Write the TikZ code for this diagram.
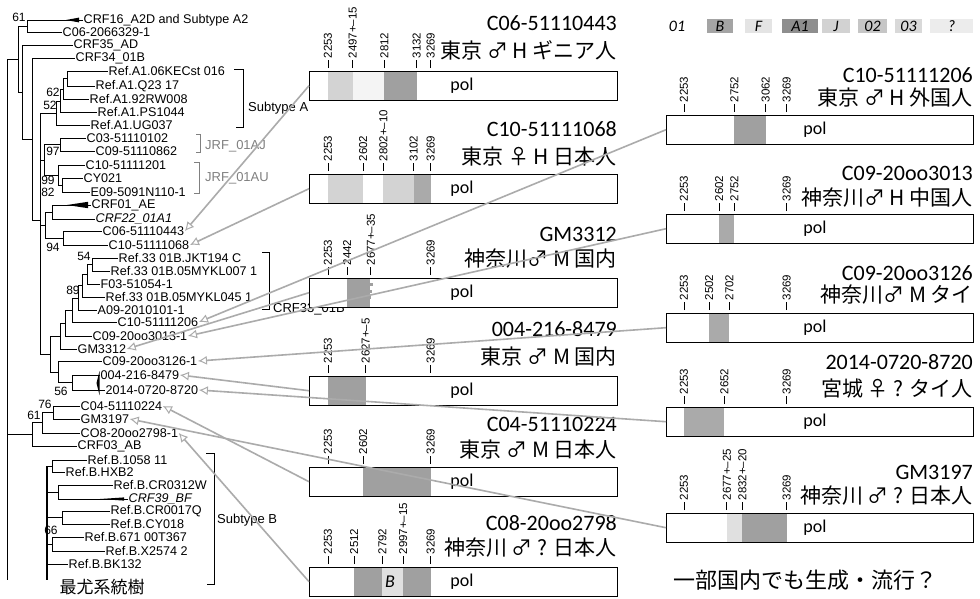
\documentclass[tikz,border=0pt]{standalone}
\usepackage{fontspec}
\setmainfont{Liberation Sans}
\newfontfamily\calf{Carlito}
\newfontfamily\jpf{Noto Sans CJK JP}
\usetikzlibrary{arrows.meta}
\definecolor{dk}{HTML}{A0A0A0}
\definecolor{md}{HTML}{AAAAAA}
\definecolor{lt}{HTML}{D3D3D3}
\definecolor{vl}{HTML}{F4F4F4}
\definecolor{lb}{HTML}{E0E0E0}
\definecolor{gB}{HTML}{A4A4A4}
\definecolor{gF}{HTML}{E4E4E4}
\definecolor{gA}{HTML}{8E8E8E}
\definecolor{gJ}{HTML}{D2D2D2}
\definecolor{gTwo}{HTML}{C6C6C6}
\definecolor{gThree}{HTML}{D9D9D9}
\definecolor{gQ}{HTML}{ECECEC}
\definecolor{arrc}{HTML}{ABABAB}
\newcount\tkcnt
\newcommand{\tk}[4]{%
  \global\advance\tkcnt by 1
  \draw[tickln] ({#1+(#3-2253)*0.101},#2-3) -- ({#1+(#3-2253)*0.101},#2-11);
  \node[ticklab,rotate=90,anchor=west] (tk\the\tkcnt) at ({#1+(#3-2253)*0.101},#2-12.5) {#4};
}
\newcommand{\sg}[5]{\fill[#5] ({#1+(#3-2253)*0.101},#2+0.5) rectangle ({#1+(#4-2253)*0.101},#2+28.5);}
\begin{document}
\begin{tikzpicture}[x=1pt,y=-1pt,
  leaf/.style={anchor=west,inner sep=0.5pt,font=\fontsize{12.6}{13}\selectfont},
  bs/.style={inner sep=0pt,font=\fontsize{12}{12}\selectfont},
  tl/.style={line width=0.8pt},
  br/.style={line width=0.8pt},
  brl/.style={anchor=west,inner sep=0pt,font=\fontsize{13}{14}\selectfont},
  mbox/.style={anchor=north west,minimum width=308pt,minimum height=29pt,inner sep=0pt,fill=white},
  rbox/.style={anchor=north west,minimum width=307pt,minimum height=29pt,inner sep=0pt,fill=white},
  boxline/.style={line width=0.9pt},
  tickln/.style={line width=0.7pt},
  ticklab/.style={inner sep=0pt,font=\fontsize{11.5}{12}\selectfont},
  pollab/.style={inner sep=0pt,font=\calf\fontsize{18}{20}\selectfont},
  idl/.style={anchor=east,inner sep=0pt,font=\calf\fontsize{22}{24}\selectfont},
  jpl/.style={anchor=east,inner sep=0pt,font=\jpf\fontsize{21}{24}\selectfont},
  lgbox/.style={minimum height=14pt,inner sep=0pt,font=\calf\itshape\fontsize{16}{18}\selectfont},
  arr/.style={draw=arrc,line width=1.6pt,-{Latex[open,length=9pt,width=9pt,line width=1pt]}}
]
\useasboundingbox[fill=white] (0,0) rectangle (980,598);

% ---------------- leaves ----------------
\node[leaf] (L1) at (83,20) {CRF16\_A2D and Subtype A2};
\node[leaf] (L2) at (62,32) {C06-2066329-1};
\node[leaf] (L3) at (73,45) {CRF35\_AD};
\node[leaf] (L4) at (75,58) {CRF34\_01B};
\node[leaf] (L5) at (108,71) {Ref.A1.06KECst 016};
\node[leaf] (L6) at (95,86) {Ref.A1.Q23 17};
\node[leaf] (L7) at (89,99) {Ref.A1.92RW008};
\node[leaf] (L8) at (97,112) {Ref.A1.PS1044};
\node[leaf] (L9) at (90,125) {Ref.A1.UG037};
\node[leaf] (L10) at (86,138) {C03-51110102};
\node[leaf] (L11) at (95,151) {C09-51110862};
\node[leaf] (L12) at (85,165) {C10-51111201};
\node[leaf] (L13) at (83,178) {CY021};
\node[leaf] (L14) at (90,192) {E09-5091N110-1};
\node[leaf] (L15) at (91,205) {CRF01\_AE};
\node[leaf,font=\fontsize{12.6}{13}\selectfont\itshape] (L16) at (95,219) {CRF22\_01A1};
\node[leaf] (L17) at (102,231) {C06-51110443};
\node[leaf] (L18) at (108,245) {C10-51111068};
\node[leaf] (L19) at (118,258) {Ref.33 01B.JKT194 C};
\node[leaf] (L20) at (110,271) {Ref.33 01B.05MYKL007 1};
\node[leaf] (L21) at (100,284) {F03-51054-1};
\node[leaf] (L22) at (105,297) {Ref.33 01B.05MYKL045 1};
\node[leaf] (L23) at (97,310) {A09-2010101-1};
\node[leaf] (L24) at (117,322) {C10-51111206};
\node[leaf] (L25) at (92,336) {C09-20oo3013-1};
\node[leaf] (L26) at (77,349) {GM3312};
\node[leaf] (L27) at (102,361) {C09-20oo3126-1};
\node[leaf] (L28) at (100,375) {004-216-8479};
\node[leaf] (L29) at (105,390) {2014-0720-8720};
\node[leaf] (L30) at (80,406) {C04-51110224};
\node[leaf] (L31) at (80,419) {GM3197};
\node[leaf] (L32) at (80,433) {CO8-20oo2798-1};
\node[leaf] (L33) at (77,446) {CRF03\_AB};
\node[leaf] (L34) at (87,460) {Ref.B.1058 11};
\node[leaf] (L35) at (65,472) {Ref.B.HXB2};
\node[leaf] (L36) at (113,485) {Ref.B.CR0312W};
\node[leaf,font=\fontsize{12.6}{13}\selectfont\itshape] (L37) at (128,499) {CRF39\_BF};
\node[leaf] (L38) at (110,511) {Ref.B.CR0017Q};
\node[leaf] (L39) at (110,524) {Ref.B.CY018};
\node[leaf] (L40) at (84,537) {Ref.B.671 00T367};
\node[leaf] (L41) at (105,551) {Ref.B.X2574 2};
\node[leaf] (L42) at (68,564) {Ref.B.BK132};

% ---------------- tree branches ----------------
\draw[tl] (7,59) -- (7,580);
\draw[tl] (7,59) -- (18,59);
\draw[tl] (18,26) -- (18,92);
\draw[tl] (18,26) -- (27,26);
\draw[tl] (27,20) -- (27,32);
\draw[tl] (27,20) -- (L1.west);
\fill (66,20) -- (79,17.6) -- (79,22.4) -- cycle;
\draw[tl] (27,32) -- (L2.west);
\draw[tl] (18,92) -- (22,92);
\draw[tl] (22,45) -- (22,139);
\draw[tl] (22,45) -- (L3.west);
\draw[tl] (22,139) -- (32,139);
\draw[tl] (32,58) -- (32,220);
\draw[tl] (32,58) -- (L4.west);
\draw[tl] (32,220) -- (40,220);
\draw[tl] (40,113) -- (40,354);
% A1 clade
\draw[tl] (40,113) -- (56,113);
\draw[tl] (56,101) -- (56,125);
\draw[tl] (56,125) -- (L9.west);
\draw[tl] (56,101) -- (60,101);
\draw[tl] (60,89) -- (60,112);
\draw[tl] (60,112) -- (L8.west);
\draw[tl] (60,89) -- (63,89);
\draw[tl] (63,78.5) -- (63,99);
\draw[tl] (63,99) -- (L7.west);
\draw[tl] (63,78.5) -- (67,78.5);
\draw[tl] (67,71) -- (67,86);
\draw[tl] (67,71) -- (L5.west);
\draw[tl] (67,86) -- (L6.west);
% JRF clades
\draw[tl] (40,160) -- (44,160);
\draw[tl] (44,144.5) -- (44,175);
\draw[tl] (44,144.5) -- (60,144.5);
\draw[tl] (60,138) -- (60,151);
\draw[tl] (60,138) -- (L10.west);
\draw[tl] (60,151) -- (L11.west);
\draw[tl] (44,175) -- (58,175);
\draw[tl] (58,165) -- (58,185);
\draw[tl] (58,165) -- (L12.west);
\draw[tl] (58,185) -- (62,185);
\draw[tl] (62,178) -- (62,192);
\draw[tl] (62,178) -- (L13.west);
\draw[tl] (62,192) -- (L14.west);
% CRF01 clade
\draw[tl] (40,225) -- (45,225);
\draw[tl] (45,212) -- (45,238);
\draw[tl] (45,212) -- (52,212);
\draw[tl] (52,205) -- (52,219);
\draw[tl] (52,205) -- (L15.west);
\fill (67,205) -- (88,201.8) -- (88,208.2) -- cycle;
\draw[tl] (52,219) -- (L16.west);
\draw[tl] (45,238) -- (63,238);
\draw[tl] (63,231) -- (63,245);
\draw[tl] (63,231) -- (L17.west);
\draw[tl] (63,245) -- (L18.west);
% CRF33 clade
\draw[tl] (40,354) -- (50,354);
\draw[tl] (50,336) -- (50,372);
\draw[tl] (50,336) -- (60,336);
\draw[tl] (60,323) -- (60,349);
\draw[tl] (60,349) -- (L26.west);
\draw[tl] (60,323) -- (65,323);
\draw[tl] (65,310) -- (65,336);
\draw[tl] (65,336) -- (L25.west);
\draw[tl] (65,310) -- (72,310);
\draw[tl] (72,298) -- (72,322);
\draw[tl] (72,322) -- (L24.west);
\draw[tl] (72,298) -- (78,298);
\draw[tl] (78,285.5) -- (78,310);
\draw[tl] (78,310) -- (L23.west);
\draw[tl] (78,285.5) -- (82,285.5);
\draw[tl] (82,274) -- (82,297);
\draw[tl] (82,297) -- (L22.west);
\draw[tl] (82,274) -- (87,274);
\draw[tl] (87,264.5) -- (87,284);
\draw[tl] (87,284) -- (L21.west);
\draw[tl] (87,264.5) -- (92,264.5);
\draw[tl] (92,258) -- (92,271);
\draw[tl] (92,258) -- (L19.west);
\draw[tl] (92,271) -- (L20.west);
\draw[tl] (50,372) -- (58,372);
\draw[tl] (58,361) -- (58,382.5);
\draw[tl] (58,361) -- (L27.west);
\draw[tl] (58,382.5) -- (72,382.5);
\draw[tl] (72,375) -- (72,390);
\draw[tl] (72,375) -- (L28.west);
\draw[tl] (72,390) -- (L29.west);
\fill (96.5,383) -- (99.5,371) -- (99.5,395) -- cycle;
% AB group
\draw[tl] (7,434) -- (32,434);
\draw[tl] (32,422.75) -- (32,446);
\draw[tl] (32,446) -- (L33.west);
\draw[tl] (32,422.75) -- (42,422.75);
\draw[tl] (42,412.5) -- (42,433);
\draw[tl] (42,433) -- (L32.west);
\draw[tl] (42,412.5) -- (53,412.5);
\draw[tl] (53,406) -- (53,419);
\draw[tl] (53,406) -- (L30.west);
\draw[tl] (53,419) -- (L31.west);
% B clade
\draw[tl,line width=1.3pt] (47,466) -- (47,580);
\draw[tl] (47,466) -- (52,466);
\draw[tl] (52,460) -- (52,472);
\draw[tl] (52,460) -- (L34.west);
\draw[tl] (52,472) -- (L35.west);
\draw[tl] (47,492) -- (58,492);
\draw[tl] (58,485) -- (58,499);
\draw[tl] (58,485) -- (L36.west);
\draw[tl] (58,499) -- (L37.west);
\fill (100,499) -- (124,497.4) -- (124,500.6) -- cycle;
\draw[tl] (47,517.5) -- (62,517.5);
\draw[tl] (62,511) -- (62,524);
\draw[tl] (62,511) -- (L38.west);
\draw[tl] (62,524) -- (L39.west);
\draw[tl] (47,544) -- (52,544);
\draw[tl] (52,537) -- (52,551);
\draw[tl] (52,537) -- (L40.west);
\draw[tl] (52,551) -- (L41.west);
\draw[tl] (47,564) -- (L42.west);

% bootstrap values
\node[bs] (b1) at (19,17) {61};
\node[bs] (b2) at (53,92) {62};
\node[bs] (b3) at (50,105) {52};
\node[bs] (b4) at (53,151) {97};
\node[bs] (b5) at (48,180) {99};
\node[bs] (b6) at (48,192.5) {82};
\node[bs] (b7) at (53,247) {94};
\node[bs] (b8) at (84,256) {54};
\node[bs] (b9) at (73,290) {89};
\node[bs] (b10) at (61,391) {56};
\node[bs] (b11) at (45,404) {76};
\node[bs] (b12) at (34,415) {61};
\node[bs] (b13) at (51,530) {66};

\node[inner sep=0pt,font=\jpf\fontsize{17}{19}\selectfont] (title) at (102,587) {最尤系統樹};

% brackets
\draw[br] (234,69) -- (243,69) -- (243,127) -- (236,127);
\node[brl] (sA) at (248,108) {Subtype A};
\draw[br,gray] (196,134) -- (200,134) -- (200,152) -- (196,152);
\node[brl,text=gray] (jAJ) at (205,146) {JRF\_01AJ};
\draw[br,gray] (194,162) -- (199,162) -- (199,193) -- (194,193);
\node[brl,text=gray] (jAU) at (205,178) {JRF\_01AU};
\draw[br] (262,252) -- (269,252) -- (269,309) -- (262,309);
\node[brl] (c33) at (273,309) {CRF33\_01B};
\draw[br] (206,453) -- (214,453) -- (214,584) -- (207,584);
\node[brl] (sB) at (217,520) {Subtype B};

% ---------------- boxes ----------------
\node[mbox] (m1) at (309,71) {};
\node[mbox] (m2) at (309,174) {};
\node[mbox] (m3) at (309,278) {};
\node[mbox] (m4) at (309,376) {};
\node[mbox] (m5) at (309,467) {};
\node[mbox] (m6) at (309,567) {};
\node[rbox] (r1) at (666,115) {};
\node[rbox] (r2) at (666,214) {};
\node[rbox] (r3) at (666,313) {};
\node[rbox] (r4) at (666,407) {};
\node[rbox] (r5) at (666,513) {};

% segments
\sg{328}{71}{2253}{2497}{lt}
\sg{328}{71}{2497}{2812}{vl}
\sg{328}{71}{2812}{3132}{dk}
\sg{328}{174}{2253}{2602}{lt}
\sg{328}{174}{2802}{3102}{lt}
\sg{328}{174}{3102}{3269}{md}
\sg{328}{278}{2442}{2670}{dk}
\fill[dk] (367,283) rectangle (373,286);
\fill[dk] (367,290) rectangle (372,292.5);
\fill[dk] (367,296) rectangle (371,299);
\sg{328}{376}{2253}{2627}{dk}
\sg{328}{467}{2602}{3269}{dk}
\sg{328}{567}{2512}{2792}{dk}
\sg{328}{567}{2792}{2997}{lb}
\sg{328}{567}{2997}{3269}{dk}
\sg{684}{115}{2752}{3062}{dk}
\sg{684}{214}{2602}{2752}{md}
\sg{684}{313}{2502}{2702}{md}
\sg{684}{407}{2253}{2652}{md}
\sg{684}{513}{2677}{2832}{lb}
\sg{684}{513}{2832}{3269}{dk}

% outlines
\foreach \b in {m1,m2,m3,m4,m5,m6,r1,r2,r3,r4,r5}
  \draw[boxline] (\b.north west) rectangle (\b.south east);

% pol labels
\node[pollab] (p1) at (462,85.5) {pol};
\node[pollab] (p2) at (462,188.5) {pol};
\node[pollab] (p3) at (462,292.5) {pol};
\node[pollab] (p4) at (462,390.5) {pol};
\node[pollab] (p5) at (462,481.5) {pol};
\node[pollab] (p6) at (462,581.5) {pol};
\node[pollab] (q1) at (815,129.5) {pol};
\node[pollab] (q2) at (815,228.5) {pol};
\node[pollab] (q3) at (815,327.5) {pol};
\node[pollab] (q4) at (815,421.5) {pol};
\node[pollab] (q5) at (815,527.5) {pol};
\node[font=\calf\itshape\fontsize{18}{20}\selectfont,inner sep=0pt] (bm6) at (390,582) {B};

% ticks
\tk{328}{71}{2253}{2253}
\tk{328}{71}{2497}{2497+–15}
\tk{328}{71}{2812}{2812}
\tk{328}{71}{3132}{3132}
\tk{328}{71}{3269}{3269}
\tk{328}{174}{2253}{2253}
\tk{328}{174}{2602}{2602}
\tk{328}{174}{2802}{2802+–10}
\tk{328}{174}{3102}{3102}
\tk{328}{174}{3269}{3269}
\tk{328}{278}{2253}{2253}
\tk{328}{278}{2442}{2442}
\tk{328}{278}{2677}{2677+–35}
\tk{328}{278}{3269}{3269}
\tk{328}{376}{2253}{2253}
\tk{328}{376}{2627}{2627+–5}
\tk{328}{376}{3269}{3269}
\tk{328}{467}{2253}{2253}
\tk{328}{467}{2602}{2602}
\tk{328}{467}{3269}{3269}
\tk{328}{567}{2253}{2253}
\tk{328}{567}{2512}{2512}
\tk{328}{567}{2792}{2792}
\tk{328}{567}{2997}{2997+–15}
\tk{328}{567}{3269}{3269}
\tk{684}{115}{2253}{2253}
\tk{684}{115}{2752}{2752}
\tk{684}{115}{3062}{3062}
\tk{684}{115}{3269}{3269}
\tk{684}{214}{2253}{2253}
\tk{684}{214}{2602}{2602}
\tk{684}{214}{2752}{2752}
\tk{684}{214}{3269}{3269}
\tk{684}{313}{2253}{2253}
\tk{684}{313}{2502}{2502}
\tk{684}{313}{2702}{2702}
\tk{684}{313}{3269}{3269}
\tk{684}{407}{2253}{2253}
\tk{684}{407}{2652}{2652}
\tk{684}{407}{3269}{3269}
\tk{684}{513}{2253}{2253}
\tk{684}{513}{2677}{2677+–25}
\tk{684}{513}{2832}{2832+–20}
\tk{684}{513}{3269}{3269}

% headers middle
\node[idl] (hm1) at (617,23) {C06-51110443};
\node[jpl] (jm1) at (617,50) {東京 ♂ H ギニア人};
\node[idl] (hm2) at (617,129) {C10-51111068};
\node[jpl] (jm2) at (617,157) {東京 ♀ H 日本人};
\node[idl] (hm3) at (617,234) {GM3312};
\node[jpl] (jm3) at (617,259) {神奈川♂ M 国内};
\node[idl] (hm4) at (617,329) {004-216-8479};
\node[jpl] (jm4) at (617,357) {東京 ♂ M 国内};
\node[idl] (hm5) at (617,424) {C04-51110224};
\node[jpl] (jm5) at (617,450) {東京 ♂ M 日本人};
\node[idl] (hm6) at (617,523) {C08-20oo2798};
\node[jpl] (jm6) at (617,548) {神奈川 ♂ ? 日本人};
% headers right
\node[idl] (hr1) at (973,75) {C10-51111206};
\node[jpl] (jr1) at (973,98) {東京 ♂ H 外国人};
\node[idl] (hr2) at (973,173) {C09-20oo3013};
\node[jpl] (jr2) at (973,198) {神奈川♂ H 中国人};
\node[idl] (hr3) at (973,273) {C09-20oo3126};
\node[jpl] (jr3) at (973,295) {神奈川♂ M タイ};
\node[idl] (hr4) at (973,362) {2014-0720-8720};
\node[jpl] (jr4) at (973,389) {宮城 ♀ ? タイ人};
\node[idl] (hr5) at (973,472) {GM3197};
\node[jpl] (jr5) at (973,496) {神奈川 ♂ ? 日本人};

\node[anchor=west,inner sep=0pt,font=\jpf\fontsize{22}{24}\selectfont] (note) at (673,580) {一部国内でも生成・流行？};

% legend
\node[lgbox] (lg01) at (677,26) {01};
\node[lgbox,fill=gB,minimum width=26pt] (lgB) at (720,26) {B};
\node[lgbox,fill=gF,minimum width=27pt] (lgF) at (758.5,26) {F};
\node[lgbox,fill=gA,minimum width=36pt] (lgA) at (800,26) {A1};
\node[lgbox,fill=gJ,minimum width=28pt] (lgJ) at (836,26) {J};
\node[lgbox,fill=gTwo,minimum width=29pt] (lg02) at (872.5,26) {02};
\node[lgbox,fill=gThree,minimum width=27pt] (lg03) at (908.5,26) {03};
\node[lgbox,fill=gQ,minimum width=43pt] (lgQ) at (951.5,26) {?};

% arrows
\draw[arr] (m1.west) -- (L17.east);
\draw[arr] (m2.west) -- (L18.east);
\draw[arr] (r1.west) -- (L24.east);
\draw[arr] (r2.west) -- (L25.east);
\draw[arr] (m3.west) -- (L26.east);
\draw[arr] (r3.west) -- (L27.east);
\draw[arr] (m4.west) -- (L28.east);
\draw[arr] (r4.west) -- (L29.east);
\draw[arr] (m5.west) -- (L30.east);
\draw[arr] (r5.west) -- (L31.east);
\draw[arr] (m6.west) -- (L32.east);
\end{tikzpicture}
\end{document}
